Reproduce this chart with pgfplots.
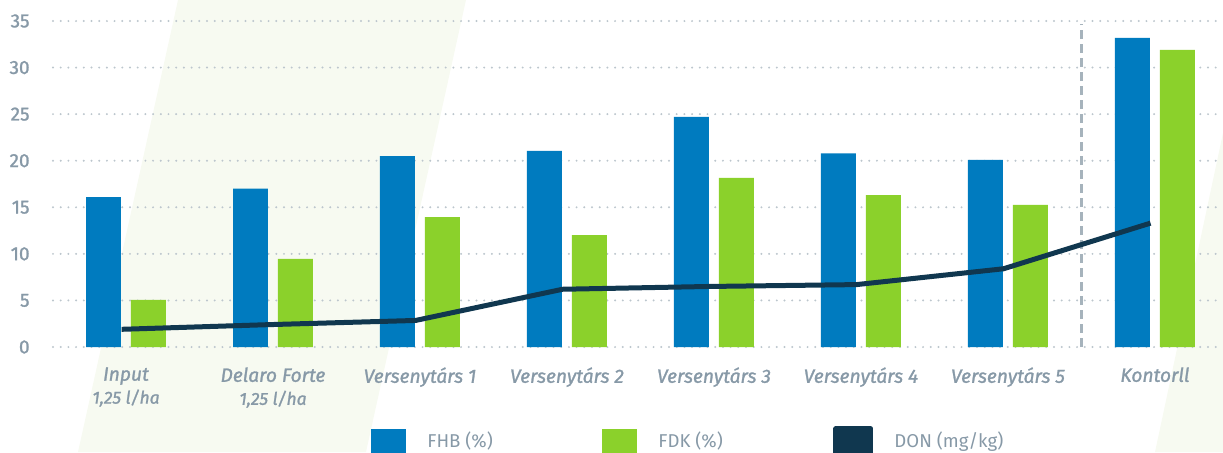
\documentclass[border=0pt]{standalone}
\usepackage{pgfplots}
\pgfplotsset{compat=1.18}
\usepackage{fontspec}
\setmainfont{Fira Sans}
\newfontfamily\labfont{Fira Sans}[FakeBold=1.3]
\definecolor{fhbblue}{HTML}{007BBF}
\definecolor{fdkgreen}{HTML}{8BD12B}
\definecolor{donnavy}{HTML}{10374F}
\definecolor{textgray}{HTML}{8799A7}
\definecolor{gridgray}{HTML}{BCC6CD}
\definecolor{dashgray}{HTML}{A6B3BC}
\definecolor{stripe}{HTML}{F7FAF1}
\begin{document}
\begin{tikzpicture}
\useasboundingbox (0,0) rectangle (611.5pt,226pt);
\fill[stripe] (39pt,0pt) -- (89pt,226pt) -- (233pt,226pt) -- (183pt,0pt) -- cycle;
\fill[stripe] (577.5pt,0pt) -- (611.5pt,159.5pt) -- (611.5pt,0pt) -- cycle;
\begin{axis}[
  at={(26.5pt,52.5pt)}, anchor=south west,
  scale only axis, width=585pt, height=163pt,
  xmin=-0.4966, xmax=7.463, ymin=0, ymax=35,
  clip=false,
  axis line style={draw=none},
  major tick style={draw=none},
  ytick={0,5,...,35},
  xtick={0,...,7},
  xticklabels={{Input\\{\fontsize{8.7}{11.5}\selectfont 1,25 l/ha}},
               {Delaro Forte\\{\fontsize{8.7}{11.5}\selectfont 1,25 l/ha}},
               {Versenytárs 1},{Versenytárs 2},{Versenytárs 3},
               {Versenytárs 4},{Versenytárs 5},{Kontorll}},
  ymajorgrids,
  grid style={gridgray, line width=1.1pt, dash pattern=on 0pt off 3.85pt, line cap=round},
  /pgf/number format/assume math mode=true,
  yticklabel style={font=\labfont\fontsize{9.5}{11}\selectfont, text=textgray, anchor=east, inner sep=0pt, xshift=-11.5pt},
  xticklabel style={font=\labfont\fontsize{9.6}{11.5}\selectfont\itshape, text=textgray, align=center, anchor=north, inner sep=0pt, yshift=-10pt},
  legend columns=3,
  legend style={draw=none, fill=none, inner sep=0pt, at={(0.2718,-0.2975)}, anchor=west,
    font=\fontsize{9.3}{11}\selectfont, text=textgray,
    /tikz/every odd column/.append style={column sep=8.5pt},
    cells={inner sep=0pt}},
]
\addplot[dashgray, line width=1.5pt, dash pattern=on 4.5pt off 2.5pt, forget plot] coordinates {(6.5,0) (6.5,34.7)};
\addplot[ybar, bar width=0.238, bar shift=-0.153, fill=fhbblue, draw=none,
  legend image code/.code={\fill[fhbblue] (0pt,-9pt) rectangle (17.5pt,6pt);}]
  coordinates {(0,16.1) (1,17.0) (2,20.5) (3,21.05) (4,24.7) (5,20.8) (6,20.1) (7,33.2)};
\addplot[ybar, bar width=0.238, bar shift=0.153, fill=fdkgreen, draw=none,
  legend image code/.code={\fill[fdkgreen] (0pt,-9pt) rectangle (17.5pt,6pt);}]
  coordinates {(0,5.05) (1,9.45) (2,13.95) (3,12.0) (4,18.15) (5,16.3) (6,15.25) (7,31.9)};
\addplot[donnavy, line width=2.5pt, line join=round,
  legend image code/.code={\fill[donnavy] (0pt,-9pt) rectangle (17.5pt,6pt);}]
  coordinates {(-0.03,1.9) (0.97,2.4) (1.97,2.85) (2.97,6.2) (3.97,6.5) (4.97,6.7) (5.97,8.4) (6.97,13.3)};
\legend{\makebox[85.5pt][l]{FHB (\%)},\makebox[85.5pt][l]{FDK (\%)},DON (mg/kg)}
\end{axis}
\end{tikzpicture}
\end{document}
